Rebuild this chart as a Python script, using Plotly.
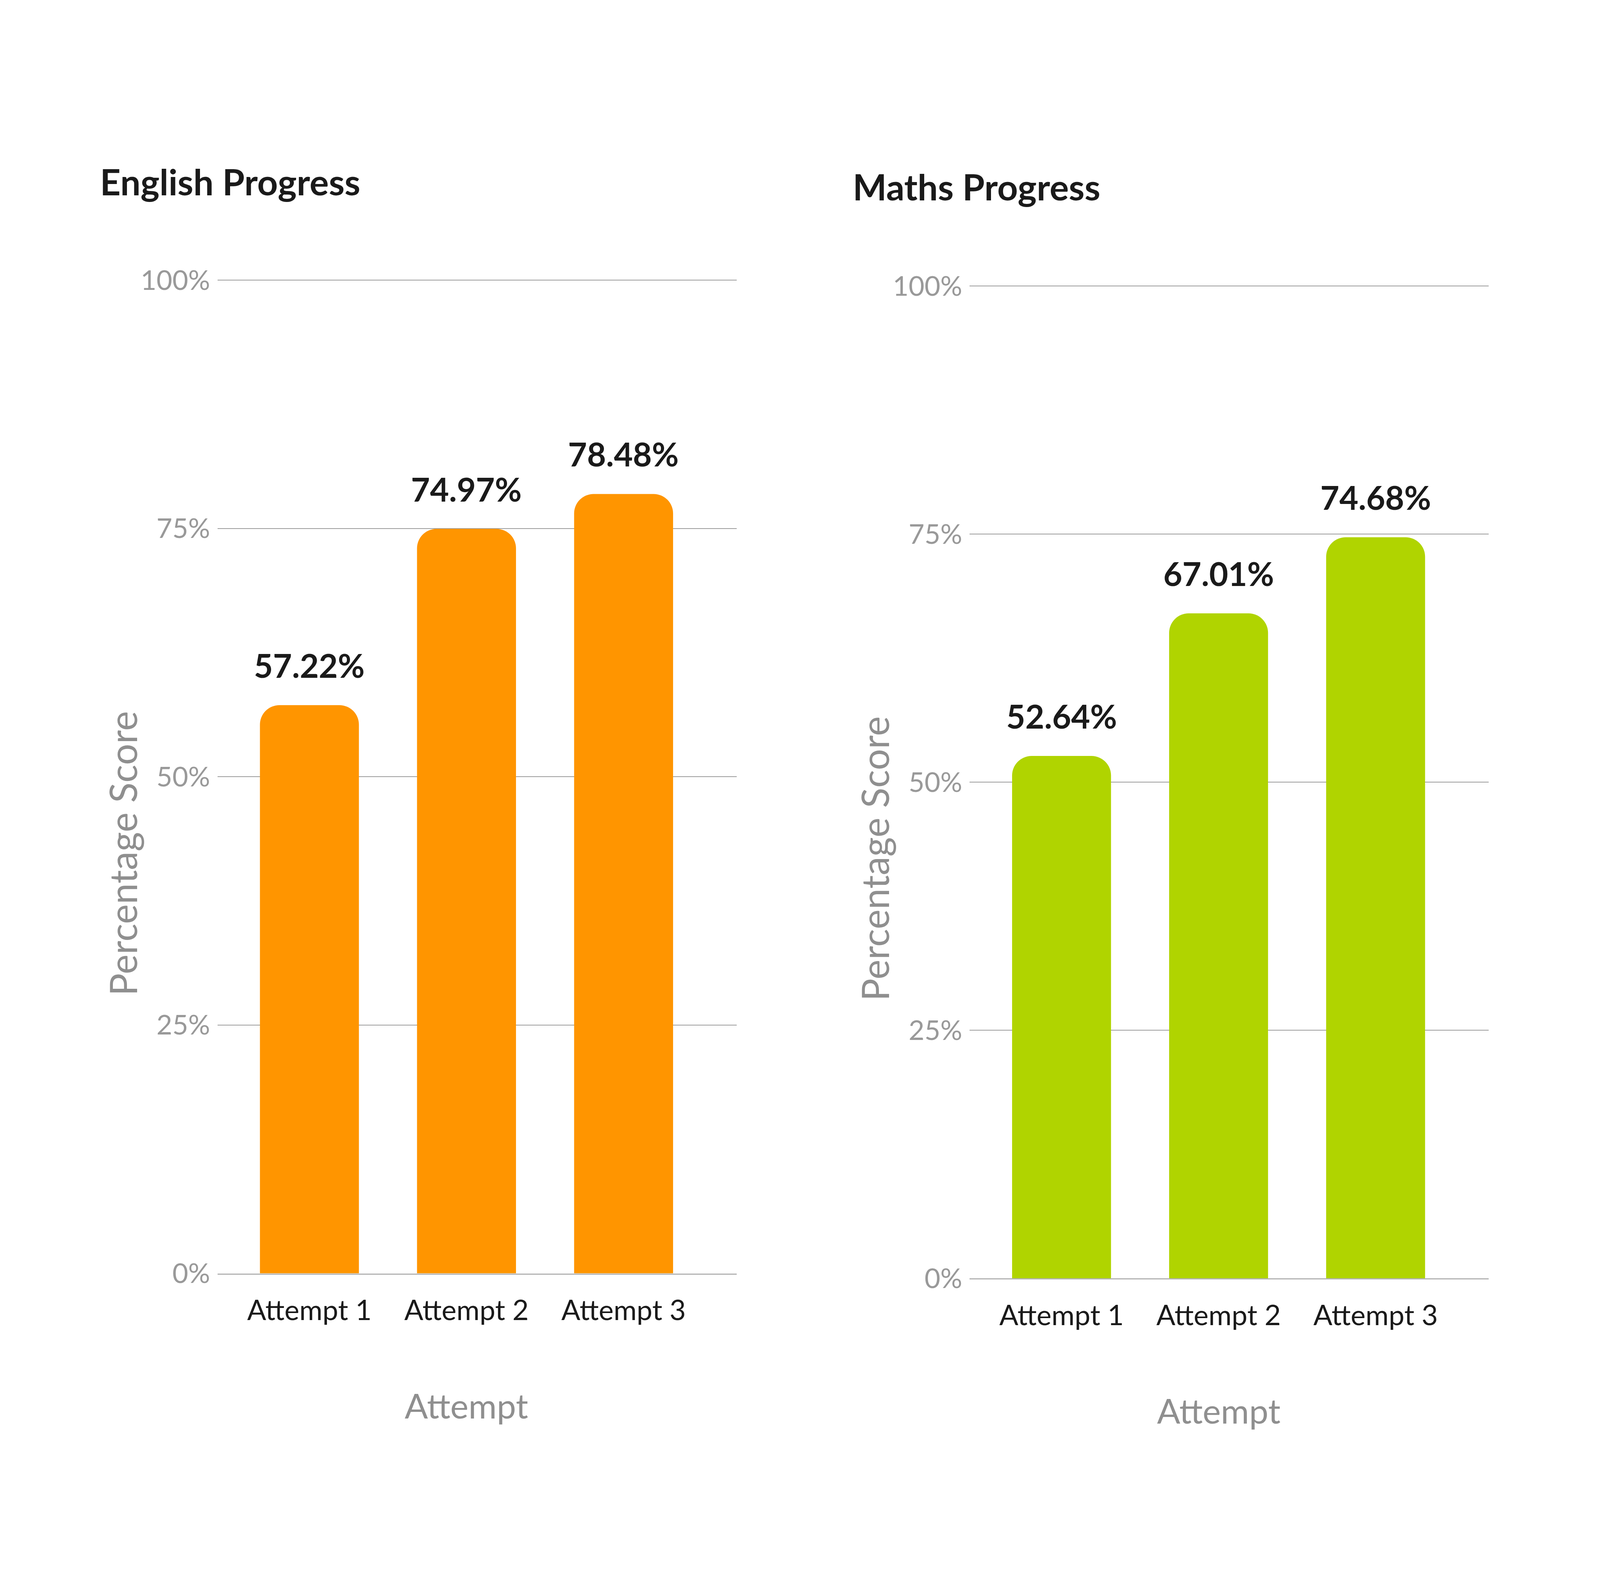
import plotly.graph_objects as go

# data
attempts = ["Attempt 1", "Attempt 2", "Attempt 3"]
english_scores = [57.22, 74.97, 78.48]
maths_scores = [52.64, 67.01, 74.68]
score_ticks = [0, 25, 50, 75, 100]
score_tick_labels = ["0%", "25%", "50%", "75%", "100%"]

# reference picture size: positions below are measured in its pixels and
# turned into paper fractions, so the figure can simply fill the window
W, H = 7969, 4029
FONT = "Lato"
DARK = "#1a1a1a"
GREY = "#999999"
TOP_PAD = 0.6  # a bit of room above 100 so its grid line is drawn


def px_x(v):
    return v / W


def px_y(v):
    return 1 - v / H


fig = go.Figure()

panels = [
    # title, scores, colour, axis suffix, plot box (l, r, y of 100%, y of 0%), title pos
    ("English Progress", english_scores, "#ff9500", "", (1072, 3668, 695, 3292), (481, 437)),
    ("Maths Progress", maths_scores, "#b0d400", "2", (4833, 7428, 710, 3305), (4244, 450)),
]

annotations = []
for title, scores, colour, sfx, box, title_pos in panels:
    l, r, t, b = box
    unit = (b - t) / 100.0
    fig.add_trace(go.Bar(
        x=attempts,
        y=scores,
        xaxis="x" + sfx,
        yaxis="y" + sfx,
        marker=dict(color=colour, cornerradius="20%", line=dict(width=0)),
        showlegend=False,
        hoverinfo="skip",
    ))

    fig.layout["xaxis" + sfx] = dict(
        domain=[px_x(l), px_x(r)],
        anchor="y" + sfx,
        type="category",
        range=[-0.585, 2.72],
        showline=True,
        linecolor="#b3b3b3",
        linewidth=3,
        showgrid=False,
        ticks="",
        ticklabelstandoff=30,
        tickfont=dict(family=FONT, size=72, color=DARK),
    )
    fig.layout["yaxis" + sfx] = dict(
        domain=[px_y(b), px_y(t - TOP_PAD * unit)],
        anchor="x" + sfx,
        range=[0, 100 + TOP_PAD],
        tickvals=score_ticks,
        ticktext=score_tick_labels,
        showgrid=True,
        gridcolor="#9c9c9c",
        gridwidth=2,
        zeroline=False,
        showline=False,
        ticks="",
        ticklabelstandoff=18,
        tickfont=dict(family=FONT, size=70, color=GREY),
    )

    # value labels above the bars
    for a, s in zip(attempts, scores):
        annotations.append(dict(
            x=a, y=s, xref="x" + sfx, yref="y" + sfx,
            text=f"<b>{s:.2f}%</b>",
            showarrow=False, yanchor="bottom", yshift=50,
            font=dict(family=FONT, size=84, color=DARK),
        ))

    # panel title
    annotations.append(dict(
        x=px_x(title_pos[0]), y=px_y(title_pos[1]), xref="paper", yref="paper",
        xanchor="left", yanchor="middle",
        text=f"<b>{title}</b>", showarrow=False,
        font=dict(family=FONT, size=92, color=DARK),
    ))

    # axis titles
    annotations.append(dict(
        x=px_x(l - 475), y=px_y((t + b) / 2 + 200), xref="paper", yref="paper",
        xanchor="center", yanchor="middle", textangle=-90,
        text="Percentage Score", showarrow=False,
        font=dict(family=FONT, size=96, color="#8f8f8f"),
    ))
    annotations.append(dict(
        x=attempts[1], xref="x" + sfx, y=px_y(b + 345), yref="paper",
        xanchor="center", yanchor="middle",
        text="Attempt", showarrow=False,
        font=dict(family=FONT, size=88, color="#8f8f8f"),
    ))

fig.update_layout(
    autosize=True,
    margin=dict(l=0, r=0, t=0, b=0),
    paper_bgcolor="white",
    plot_bgcolor="white",
    bargap=0.37,
    annotations=annotations,
)

fig.write_html("out.html", default_width="100%", default_height="100%")
